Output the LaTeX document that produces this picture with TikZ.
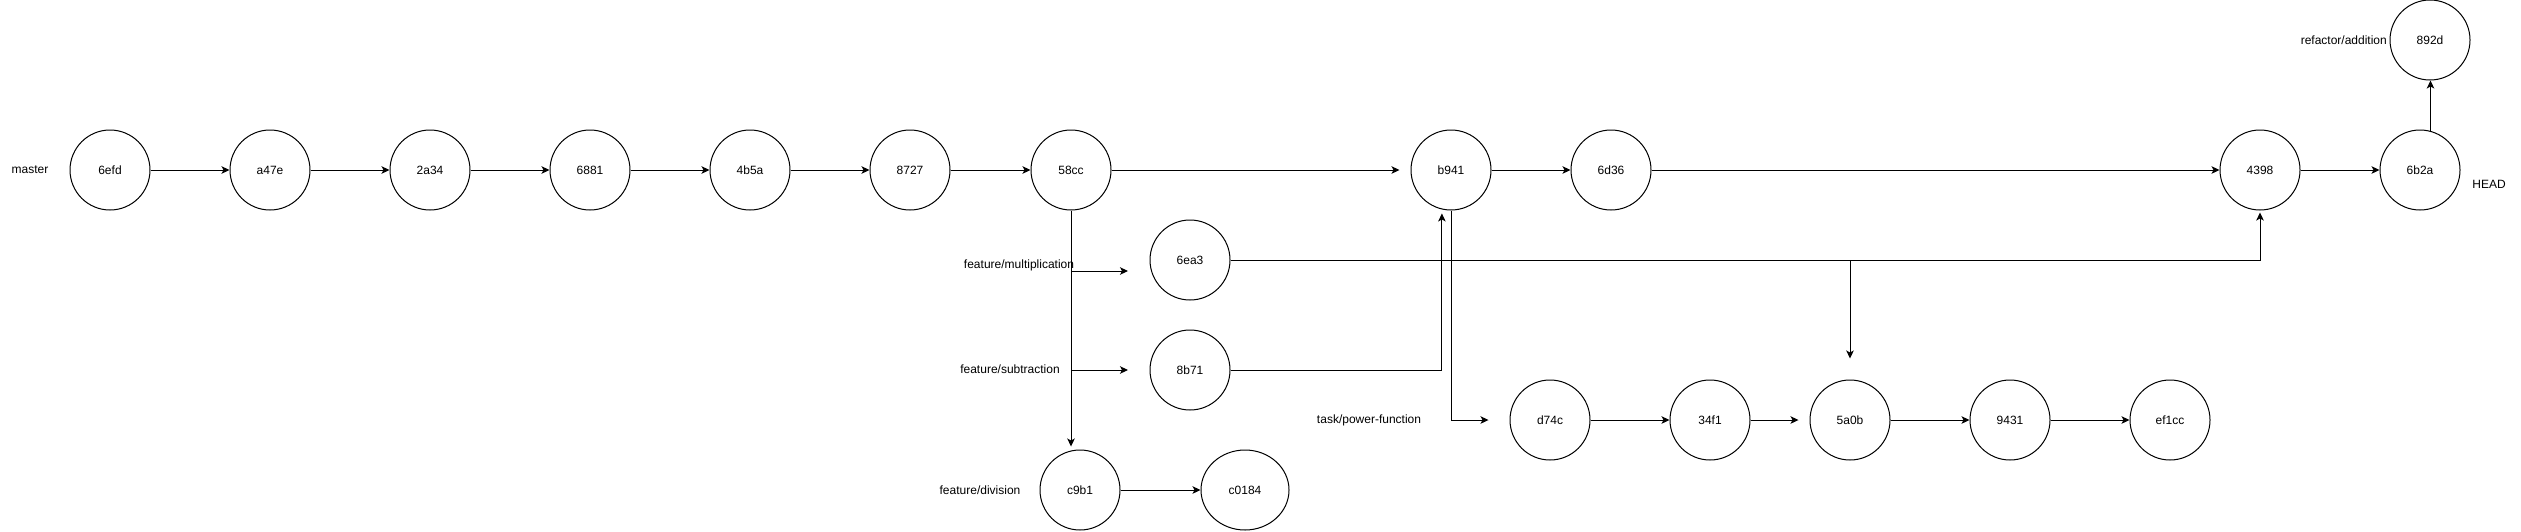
\documentclass[tikz,border=0pt]{standalone}
\usepackage{fontspec}
\setmainfont{Liberation Sans}
\usetikzlibrary{arrows.meta,calc,shapes.geometric}
\tikzset{
  commit/.style={draw, circle, line width=1pt, minimum size=80pt, inner sep=0pt, font=\fontsize{12}{14}\selectfont},
  lbl/.style={inner sep=0pt, font=\fontsize{12}{14}\selectfont},
  conn/.style={line width=1pt, -{Stealth[length=8pt,width=7.5pt,inset=2pt]}},
  plain/.style={line width=1pt}
}
\begin{document}
\begin{tikzpicture}[x=1pt,y=-1pt]
\useasboundingbox (0,0) rectangle (2521,531);
% master row
\node[commit] (v6efd) at (110,170) {6efd};
\node[commit] (va47e) at (270,170) {a47e};
\node[commit] (v2a34) at (430,170) {2a34};
\node[commit] (v6881) at (590,170) {6881};
\node[commit] (v4b5a) at (750,170) {4b5a};
\node[commit] (v8727) at (910,170) {8727};
\node[commit] (v58cc) at (1071,170) {58cc};
\node[commit] (vb941) at (1451,170) {b941};
\node[commit] (v6d36) at (1611,170) {6d36};
\node[commit] (v4398) at (2260,170) {4398};
\node[commit] (v6b2a) at (2420,170) {6b2a};
\node[commit] (v892d) at (2430,40) {892d};
% branches
\node[commit] (v6ea3) at (1190,260) {6ea3};
\node[commit] (v8b71) at (1190,370) {8b71};
\node[commit] (vc9b1) at (1080,490) {c9b1};
\node[commit, ellipse, minimum width=88pt, minimum height=80pt] (vc0184) at (1245,490) {c0184};
\node[commit] (vd74c) at (1550,420) {d74c};
\node[commit] (v34f1) at (1710,420) {34f1};
\node[commit] (v5a0b) at (1850,420) {5a0b};
\node[commit] (v9431) at (2010,420) {9431};
\node[commit] (vef1cc) at (2170,420) {ef1cc};
% labels
\node[lbl] (lmaster) at (30,170) {master};
\node[lbl] (lmul) at (1019,265) {feature/multiplication};
\node[lbl] (lsub) at (1010,369) {feature/subtraction};
\node[lbl] (ldiv) at (980,490) {feature/division};
\node[lbl] (lpow) at (1369,420) {task/power-function};
\node[lbl, anchor=east] (lref) at (2387,40) {refactor/addition};
\node[lbl] (lhead) at (2489,184) {HEAD};
% helper coordinates
\coordinate (mulstart) at (1071,271);
\coordinate (mulend) at (1128,271);
\coordinate (substart) at (1071,370);
\coordinate (subend) at (1128,370);
% master connectors
\draw[conn] (v6efd) -- (va47e);
\draw[conn] (va47e) -- (v2a34);
\draw[conn] (v2a34) -- (v6881);
\draw[conn] (v6881) -- (v4b5a);
\draw[conn] (v4b5a) -- (v8727);
\draw[conn] (v8727) -- (v58cc);
\draw[conn, shorten >=11pt] (v58cc) -- (vb941);
\draw[conn] (vb941) -- (v6d36);
\draw[conn] (v6d36) -- (v4398);
\draw[conn] (v4398) -- (v6b2a);
\draw[conn] (v6b2a.75.5) -- (v6b2a.75.5 |- v892d.south);
% 58cc branches
\draw[conn, shorten >=3pt] (v58cc.south) -- (v58cc.south |- vc9b1.north);
\draw[conn] (mulstart) -- (mulend);
\draw[conn] (substart) -- (subend);
\draw[conn] (vc9b1) -- (vc0184);
% merges
\draw[conn, shorten >=4pt] (v8b71.east) -| (vb941.257);
\draw[conn, shorten >=21pt] (vb941.south) |- (vd74c.west);
\draw[conn, shorten >=2pt] (v6ea3.east) -| (v4398.south);
\draw[conn, shorten >=21pt] (v6ea3.east -| v5a0b.north) -- (v5a0b.north);
% power-function row
\draw[conn] (vd74c) -- (v34f1);
\draw[conn, shorten >=11pt] (v34f1) -- (v5a0b);
\draw[conn] (v5a0b) -- (v9431);
\draw[conn] (v9431) -- (vef1cc);
\end{tikzpicture}
\end{document}
